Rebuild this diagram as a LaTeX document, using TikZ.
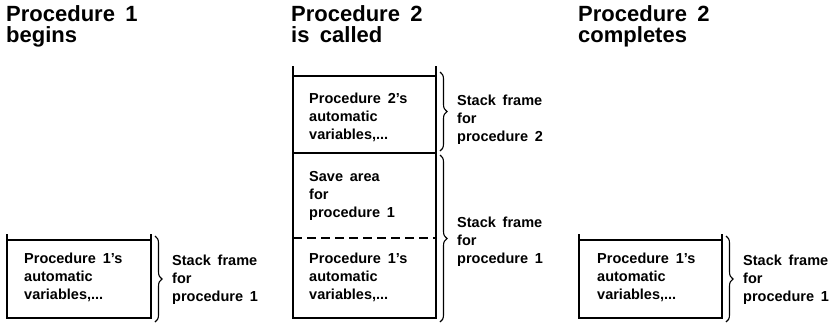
\documentclass[tikz,border=0pt]{standalone}
\usepackage{fontspec}
\setmainfont{Liberation Sans}[WordSpace=1.7]
\usetikzlibrary{decorations.pathreplacing}

\begin{document}
\begin{tikzpicture}[x=1pt,y=-1pt,
  frame/.style={line width=2.2pt},
  divider/.style={line width=2.2pt},
  dashdiv/.style={line width=2.2pt, dash pattern=on 9pt off 5pt},
  % multi-line texts are placed by the baseline of their last line
  heading/.style={anchor=base west, inner sep=0pt, align=left,
    font=\fontsize{22}{21}\selectfont\bfseries},
  cell/.style={anchor=base west, inner sep=0pt, align=left,
    font=\fontsize{14.5}{18}\selectfont\bfseries},
  bracebar/.style={decorate, decoration={brace, amplitude=7pt}, line width=1.1pt},
]
\useasboundingbox (0,0) rectangle (834,325);

% ---------- column 1: procedure 1 begins ----------
\node[heading] (h1) at (6,42) {Procedure 1\\begins};
\coordinate (a1) at (7,234);  \coordinate (b1) at (151,234);
\coordinate (a1t) at (7,240); \coordinate (b1t) at (151,240);
\coordinate (a1b) at (7,318); \coordinate (b1b) at (151,318);
\draw[frame] (a1) -- (a1b) -- (b1b) -- (b1);
\draw[frame] (a1t) -- (b1t);
\node[cell] (v1) at (24,299) {Procedure 1's\\automatic\\variables,...};
\coordinate (k1s) at (155,236); \coordinate (k1e) at (155,322);
\draw[bracebar] (k1s) -- (k1e);
\node[cell] (f1) at (172,301) {Stack frame\\for\\procedure 1};

% ---------- column 2: procedure 2 is called ----------
\node[heading] (h2) at (291,42) {Procedure 2\\is called};
\coordinate (a2) at (293,66);  \coordinate (b2) at (436,66);
\coordinate (a2t) at (293,76); \coordinate (b2t) at (436,76);
\coordinate (a2m) at (293,153); \coordinate (b2m) at (436,153);
\coordinate (a2d) at (293,238); \coordinate (b2d) at (436,238);
\coordinate (a2b) at (293,318); \coordinate (b2b) at (436,318);
\draw[frame] (a2) -- (a2b) -- (b2b) -- (b2);
\draw[frame] (a2t) -- (b2t);
\draw[divider] (a2m) -- (b2m);
\draw[dashdiv] (a2d) -- (b2d);
\node[cell] (v2) at (309,139) {Procedure 2's\\automatic\\variables,...};
\node[cell] (s2) at (309,217) {Save area\\for\\procedure 1};
\node[cell] (w2) at (309,299) {Procedure 1's\\automatic\\variables,...};
\coordinate (k2s) at (440,72);  \coordinate (k2e) at (440,151);
\draw[bracebar] (k2s) -- (k2e);
\node[cell] (f2) at (457,141) {Stack frame\\for\\procedure 2};
\coordinate (k3s) at (440,155); \coordinate (k3e) at (440,322);
\draw[bracebar] (k3s) -- (k3e);
\node[cell] (f3) at (457,263) {Stack frame\\for\\procedure 1};

% ---------- column 3: procedure 2 completes ----------
\node[heading] (h3) at (578,42) {Procedure 2\\completes};
\coordinate (a3) at (579,234);  \coordinate (b3) at (722,234);
\coordinate (a3t) at (579,240); \coordinate (b3t) at (722,240);
\coordinate (a3b) at (579,318); \coordinate (b3b) at (722,318);
\draw[frame] (a3) -- (a3b) -- (b3b) -- (b3);
\draw[frame] (a3t) -- (b3t);
\node[cell] (v3) at (597,299) {Procedure 1's\\automatic\\variables,...};
\coordinate (k4s) at (726,236); \coordinate (k4e) at (726,322);
\draw[bracebar] (k4s) -- (k4e);
\node[cell] (f4) at (743,301) {Stack frame\\for\\procedure 1};
\end{tikzpicture}
\end{document}
